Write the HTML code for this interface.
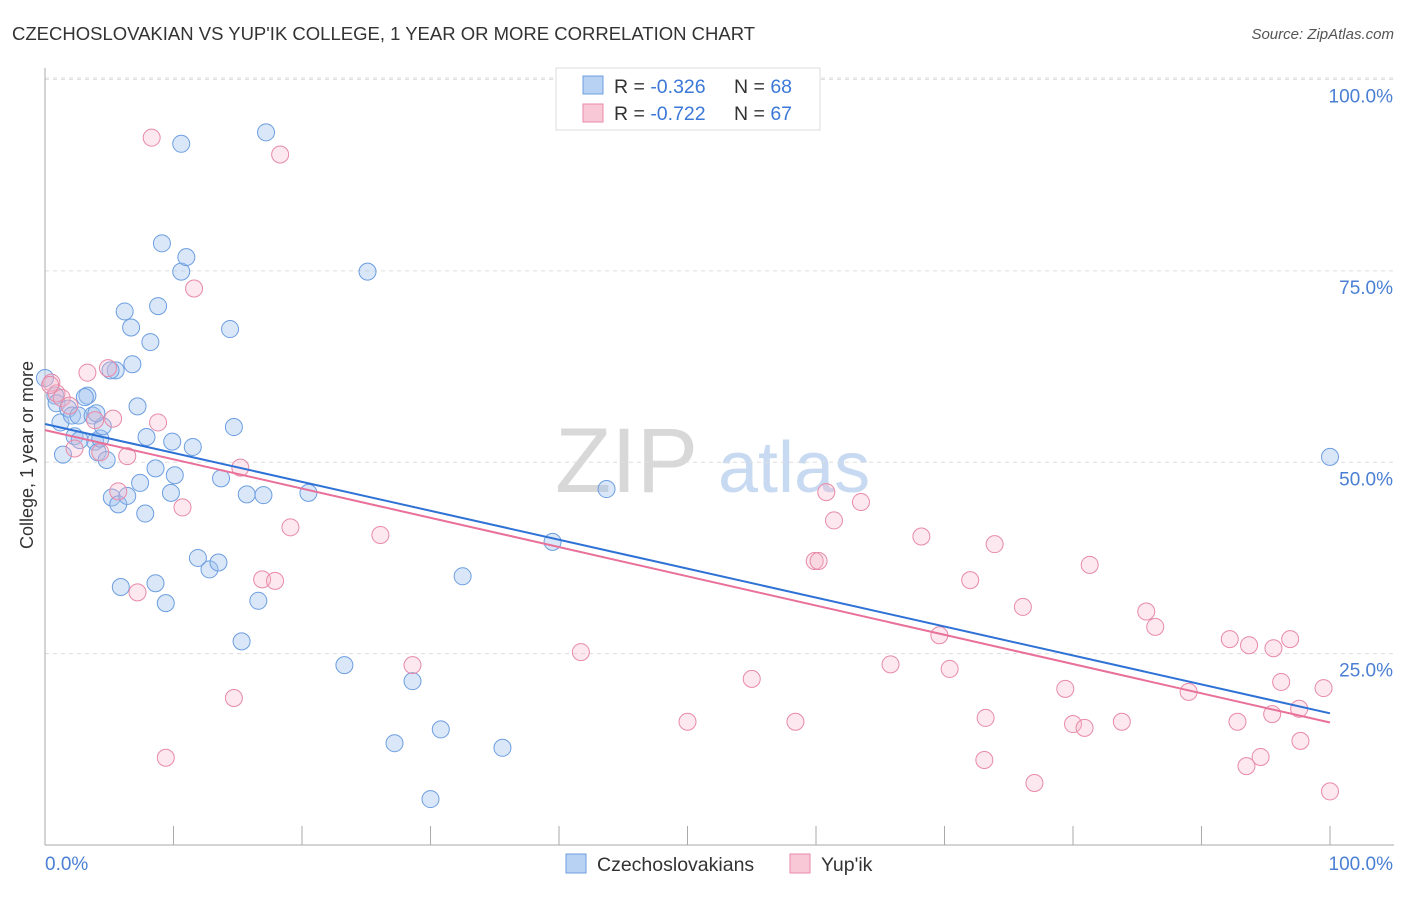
<!DOCTYPE html>
<html><head><meta charset="utf-8"><style>
body{margin:0;background:#fff;font-family:"Liberation Sans",sans-serif}
svg text{font-family:"Liberation Sans",sans-serif}
</style></head><body>
<svg id="chart" width="1406" height="892" xmlns="http://www.w3.org/2000/svg">
<text x="12" y="40" font-size="18.5" fill="#333">CZECHOSLOVAKIAN VS YUP'IK COLLEGE, 1 YEAR OR MORE CORRELATION CHART</text>
<text x="1394" y="39" font-size="15" fill="#555" font-style="italic" text-anchor="end">Source: ZipAtlas.com</text>
<g>
<text x="555" y="492" font-size="92" fill="#d8d8d8" font-family="Liberation Serif">ZIP</text>
<text x="718" y="492" font-size="72" fill="#c8daf2">atlas</text>
</g>
<g id="grid"></g>
<g id="axes"></g>
<g id="pts"></g>
<g id="lines"></g>
<text x="33" y="455" font-size="18" fill="#333" text-anchor="middle" transform="rotate(-90 33 455)">College, 1 year or more</text>
<g>
<rect x="556" y="68" width="264" height="62" fill="#fff" stroke="#ddd"/>
<rect x="583" y="76" width="20" height="18" fill="#b8d2f4" stroke="#6d9ee0"/>
<text x="614" y="93" font-size="19.5" fill="#333">R = <tspan fill="#3b78d8">-0.326</tspan></text>
<text x="734" y="93" font-size="19.5" fill="#333">N = <tspan fill="#3b78d8">68</tspan></text>
<rect x="583" y="104" width="20" height="18" fill="#f8c8d6" stroke="#e88aa8"/>
<text x="614" y="120" font-size="19.5" fill="#333">R = <tspan fill="#3b78d8">-0.722</tspan></text>
<text x="734" y="120" font-size="19.5" fill="#333">N = <tspan fill="#3b78d8">67</tspan></text>
</g>
<g>
<rect x="566" y="854" width="20" height="19" fill="#b8d2f4" stroke="#6d9ee0"/>
<text x="597" y="871" font-size="19.5" fill="#333">Czechoslovakians</text>
<rect x="790" y="854" width="20" height="19" fill="#f8c8d6" stroke="#e88aa8"/>
<text x="821" y="871" font-size="19.5" fill="#333">Yup'ik</text>
</g>
</svg>
<script>
const blueX=[0.0,0.8,0.9,1.2,1.4,1.8,2.1,2.3,2.6,3.3,3.7,3.9,4.1,4.3,4.5,4.8,5.2,5.5,5.7,6.2,6.4,6.7,6.8,7.2,7.4,7.8,7.9,8.2,8.6,8.6,8.8,9.1,9.4,9.8,9.9,10.1,10.6,10.6,11.0,11.5,11.9,12.8,13.5,13.7,14.4,14.7,15.7,16.6,17.0,15.3,17.2,20.5,23.3,25.1,27.2,28.6,30.0,30.8,32.5,35.6,39.5,43.7,100,5.9,2.7,3.1,5.1,4.0];
const blueY=[61.0,58.7,57.7,55.2,51.0,57.0,56.1,53.4,56.1,58.7,56.1,52.7,51.3,53.1,54.7,50.3,45.4,62.0,44.5,69.7,45.6,67.6,62.8,57.3,47.3,43.3,53.3,65.7,49.2,34.2,70.4,78.6,31.6,46.0,52.7,48.3,74.9,91.6,76.8,52.0,37.5,36.0,36.9,47.9,67.4,54.6,45.8,31.9,45.7,26.6,93.1,46.0,23.5,74.9,13.3,21.4,6.0,15.1,35.1,12.7,39.6,46.5,50.7,33.7,52.9,58.5,62.0,56.4];
const pinkX=[0.5,0.9,1.3,1.9,2.3,3.3,3.9,4.3,4.9,5.3,5.7,6.4,7.2,8.3,8.8,9.4,10.7,11.6,14.7,15.2,16.9,17.9,18.3,19.1,26.1,28.6,41.7,50.0,55.0,58.4,59.9,60.2,60.8,61.4,63.5,65.8,68.2,69.6,70.4,72.0,73.1,73.2,73.9,76.1,77.0,79.4,80.0,80.9,81.3,83.8,85.7,86.4,89.0,92.2,92.8,93.5,93.7,94.6,95.6,96.2,96.9,95.5,97.6,97.7,99.5,100,0.4];
const pinkY=[60.4,59.0,58.4,57.4,51.8,61.7,55.5,51.3,62.3,55.7,46.2,50.8,33.0,92.4,55.2,11.4,44.1,72.7,19.2,49.3,34.7,34.5,90.2,41.5,40.5,23.5,25.2,16.1,21.7,16.1,37.1,37.1,46.1,42.4,44.8,23.6,40.3,27.4,23.0,34.6,11.1,16.6,39.3,31.1,8.1,20.4,15.8,15.3,36.6,16.1,30.5,28.5,20.0,26.9,16.1,10.3,26.1,11.5,25.7,21.3,26.9,17.1,17.8,13.6,20.5,7.0,60.1];
const blueTrend=[55.0,17.2];
const pinkTrend=[54.2,16.0];
const yTicks=[100,75,50,25];
const yTickLabels=["100.0%","75.0%","50.0%","25.0%"];
const xTicks=[0,10,20,30,40,50,60,70,80,90,100];
const NS="http://www.w3.org/2000/svg";
const sx=v=>45+v*12.85, sy=v=>845-v*7.655;
function mk(tag,attrs,parent){const e=document.createElementNS(NS,tag);for(const k in attrs)e.setAttribute(k,attrs[k]);document.getElementById(parent).appendChild(e);return e;}
yTicks.forEach((t,i)=>{
 const g=mk('line',{x1:45,x2:1394,y1:sy(t),y2:sy(t),stroke:'#ddd','stroke-dasharray':'4,4'},'grid');
 
 
 const l=mk('text',{x:1393,y:sy(t)+23,'font-size':19,fill:'#4a7fd4','text-anchor':'end'},'grid');
 l.textContent=yTickLabels[i];
 
 
});
const topG=mk('line',{x1:45,x2:1394,y1:78,y2:78,stroke:'#ddd','stroke-dasharray':'4,4'},'grid');


const ya=mk('line',{x1:45,x2:45,y1:68,y2:845,stroke:'#aaa'},'axes');


const xa=mk('line',{x1:45,x2:1394,y1:845,y2:845,stroke:'#aaa'},'axes');


xTicks.forEach(t=>{
 const k=mk('line',{x1:sx(t),x2:sx(t),y1:826,y2:845,stroke:'#aaa'},'axes');
 
 
});
const xl0=mk('text',{x:45,y:870,'font-size':19,fill:'#4a7fd4'},'axes');xl0.textContent='0.0%';


const xl1=mk('text',{x:1393,y:870,'font-size':19,fill:'#4a7fd4','text-anchor':'end'},'axes');xl1.textContent='100.0%';


blueX.forEach((x,i)=>{
 const c=mk('circle',{cx:sx(x),cy:sy(blueY[i]),r:8.5,fill:'rgba(160,196,240,0.4)',stroke:'#6d9ee0','stroke-width':1},'pts');
 
 
});
pinkX.forEach((x,i)=>{
 const c=mk('circle',{cx:sx(x),cy:sy(pinkY[i]),r:8.5,fill:'rgba(244,180,200,0.3)',stroke:'#e88aa8','stroke-width':1},'pts');
 
 
});
const bl=mk('line',{x1:sx(0),y1:sy(blueTrend[0]),x2:sx(100),y2:sy(blueTrend[1]),stroke:'#2f72d6','stroke-width':2},'lines');


const pl=mk('line',{x1:sx(0),y1:sy(pinkTrend[0]),x2:sx(100),y2:sy(pinkTrend[1]),stroke:'#e8709a','stroke-width':2},'lines');


</script>
</body></html>
